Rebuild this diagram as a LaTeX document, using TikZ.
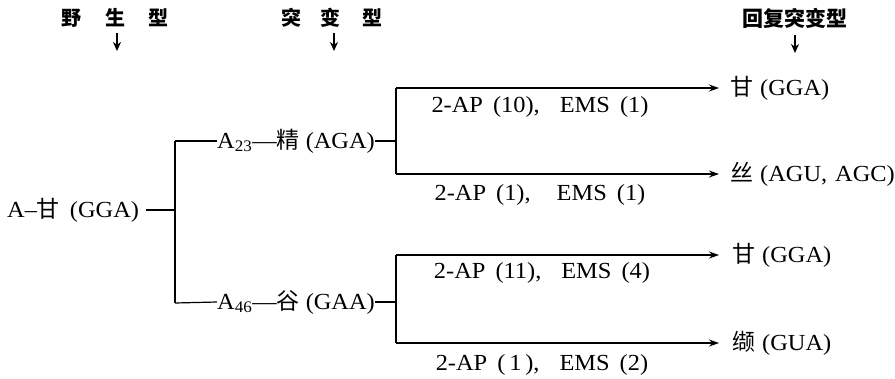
\documentclass[tikz,border=0pt]{standalone}
\usepackage{fontspec}
\setmainfont{Liberation Serif}[FakeStretch=1.06]
\newfontfamily\cjk{Noto Sans CJK SC}
\usetikzlibrary{arrows.meta}
\begin{document}
\begin{tikzpicture}[x=1pt,y=-1pt,
  font=\fontsize{23}{27}\selectfont,
  ln/.style={line width=1.8pt},
  dsh/.style={line width=1.2pt},
  arr/.style={line width=1.4pt,-{Stealth[length=10pt,width=7pt]}},
  harr/.style={line width=2pt,-{Stealth[length=9pt,width=8pt]}},
  txt/.style={inner sep=0pt},
  hd/.style={inner sep=0pt,font=\cjk\bfseries\fontsize{20}{24}\selectfont},
  res/.style={inner sep=0pt,anchor=west},
  lab/.style={inner sep=0pt}]
\useasboundingbox (0,0) rectangle (895,378);
% headers
\node[hd] (h1) at (115,18) {野\hspace{24pt}生\hspace{23pt}型};
\node[hd] (h2) at (332,18) {突\hspace{19pt}变\hspace{22pt}型};
\node[hd,font=\cjk\bfseries\fontsize{21}{24}\selectfont] (h3) at (795,18) {回复突变型};
\coordinate (h1a) at (117,33); \coordinate (h1b) at (117,51);
\coordinate (h2a) at (334,33); \coordinate (h2b) at (334,51);
\coordinate (h3a) at (795,35); \coordinate (h3b) at (795,53);
\draw[harr] (h1a) -- (h1b);
\draw[harr] (h2a) -- (h2b);
\draw[harr] (h3a) -- (h3b);
% wild type
\node[txt,anchor=west] (wt) at (7,210) {A–{\cjk 甘}\hspace{10pt}(GGA)};
\coordinate (v1t) at (175,141);
\coordinate (v1m) at (175,210);
\coordinate (v1b) at (175,303);
\draw[dsh] ([xshift=7pt]wt.east) -- (v1m);
\draw[ln] (v1t) -- (v1b);
% mutants
\node[txt,anchor=west] (m1) at (217,141) {A\textsubscript{23}—{\cjk 精}\hspace{6pt}(AGA)};
\node[txt,anchor=west] (m2) at (217,302) {A\textsubscript{46}—{\cjk 谷}\hspace{6pt}(GAA)};
\draw[dsh] (v1t) -- (m1.west);
\draw[dsh] (v1b) -- (m2.west);
\coordinate (b1t) at (396,88);
\coordinate (b1m) at (396,141);
\coordinate (b1b) at (396,174);
\coordinate (b2t) at (396,255);
\coordinate (b2m) at (396,302);
\coordinate (b2b) at (396,343);
\draw[dsh] (m1.east) -- (b1m);
\draw[dsh] (m2.east) -- (b2m);
\draw[ln] (b1t) -- (b1b);
\draw[ln] (b2t) -- (b2b);
% revertants
\node[res] (r1) at (730,88) {{\cjk 甘}\hspace{7pt}(GGA)};
\node[res] (r2) at (730,174) {{\cjk 丝}\hspace{7pt}(AGU,\hspace{8pt}AGC)};
\node[res] (r3) at (732,255) {{\cjk 甘}\hspace{7pt}(GGA)};
\node[res] (r4) at (732,343) {{\cjk 缬}\hspace{7pt}(GUA)};
\draw[arr] (b1t) -- ([xshift=-11pt]r1.west);
\draw[arr] (b1b) -- ([xshift=-11pt]r2.west);
\draw[arr] (b2t) -- ([xshift=-13pt]r3.west);
\draw[arr] (b2b) -- ([xshift=-13pt]r4.west);
% labels
\node[lab] (l1) at (540,107) {2-AP\hspace{4pt} (10),\hspace{20pt}EMS\hspace{4pt} (1)};
\node[lab] (l2) at (540,195) {2-AP\hspace{4pt} (1),\hspace{26pt}EMS\hspace{4pt} (1)};
\node[lab] (l3) at (542,273) {2-AP\hspace{4pt} (11),\hspace{20pt}EMS\hspace{4pt} (4)};
\node[lab] (l4) at (542,365) {2-AP\hspace{4pt} (\,1\,),\hspace{20pt}EMS\hspace{4pt} (2)};
\end{tikzpicture}
\end{document}
